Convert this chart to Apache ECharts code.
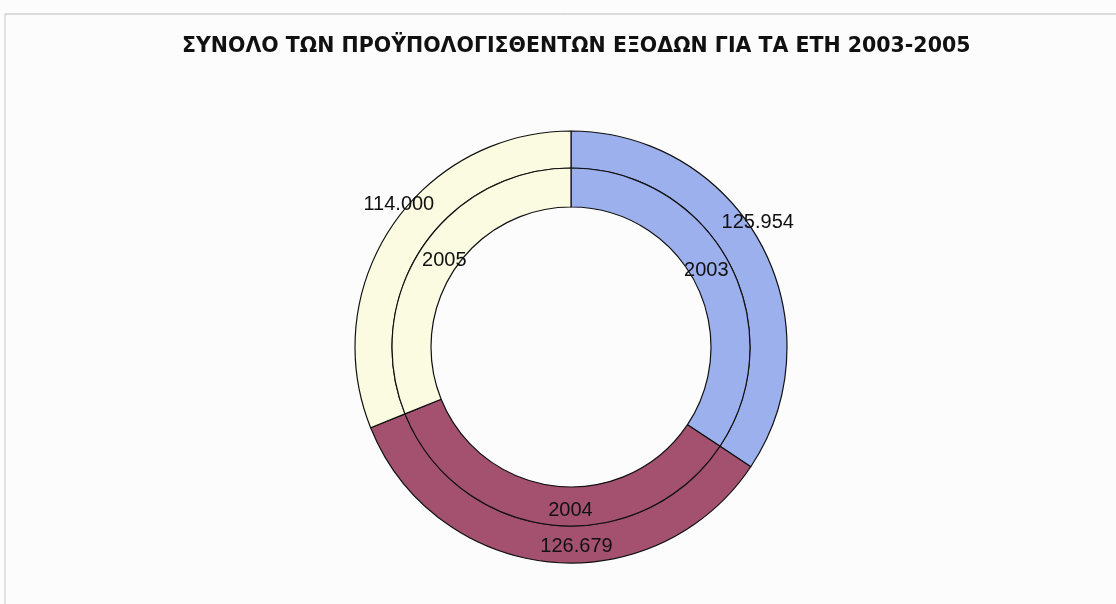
<!DOCTYPE html>
<html><head><meta charset="utf-8">
<script src="https://cdn.jsdelivr.net/npm/echarts@6/dist/echarts.min.js"></script>
<style>html,body{margin:0;padding:0;background:#fbfcfb;}#c{width:1116px;height:604px;}</style>
</head><body><div id="c"></div>
<script>
const titleText = 'ΣΥΝΟΛΟ ΤΩΝ ΠΡΟΫΠΟΛΟΓΙΣΘΕΝΤΩΝ ΕΞΟΔΩΝ ΓΙΑ ΤΑ ΕΤΗ 2003-2005';
const years = ['2003', '2004', '2005'];
const values = [125954, 126679, 114000];
const valueLabels = ['125.954', '126.679', '114.000'];
const colors = ['#9db0ee', '#a4516f', '#fbfbe2'];

const outerOffsets = [[10, -30], [26, 0], [-6, -30]];
const innerOffsets = [[-8, 0], [16, 2], [8, 4]];

const chart = echarts.init(document.getElementById('c'));
const lbl = {color: '#111', fontFamily: 'Liberation Sans, Arial, sans-serif', fontSize: 20};
function ring(radius, labelFn, offsets) {
  return {
    type: 'pie', center: [571, 347], radius: radius, startAngle: 90, clockwise: true,
    silent: true, animation: false,
    itemStyle: {borderColor: '#111', borderWidth: 1.2},
    label: Object.assign({show: true, position: 'inside'}, lbl),
    labelLine: {show: false},
    data: values.map((v, i) => ({
      value: v, name: years[i],
      itemStyle: {color: colors[i]},
      label: {formatter: labelFn(i), offset: offsets[i]}
    }))
  };
}
chart.setOption({
  backgroundColor: '#fbfcfb',
  title: {text: titleText, left: 177, top: 31,
    textStyle: {fontFamily: 'DejaVu Sans, sans-serif', fontWeight: 'bold', fontSize: 20.5, color: '#111'}},
  graphic: [
    {type: 'line', shape: {x1: 5, y1: 14, x2: 1116, y2: 14}, style: {stroke: '#b8b8b8', lineWidth: 1}},
    {type: 'line', shape: {x1: 5, y1: 14, x2: 5, y2: 604}, style: {stroke: '#c8c8c8', lineWidth: 1}}
  ],
  series: [
    ring([179, 216], i => valueLabels[i], outerOffsets),
    ring([140, 179], i => years[i], innerOffsets)
  ]
});
</script></body></html>
